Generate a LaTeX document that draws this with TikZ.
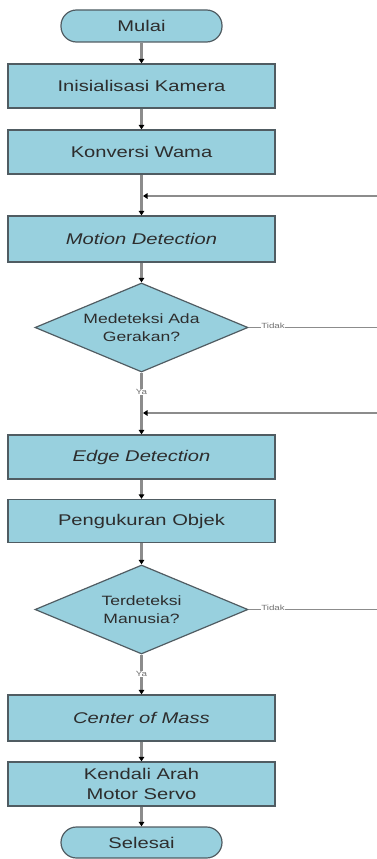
\documentclass[tikz,border=0pt]{standalone}
\usepackage{fontspec}
\setmainfont{Liberation Sans}[FakeStretch=1.3]
\usetikzlibrary{shapes.geometric,arrows.meta}
\definecolor{boxfill}{RGB}{152,208,222}
\definecolor{boxline}{RGB}{80,92,98}
\definecolor{stem}{RGB}{140,140,140}
\definecolor{txt}{RGB}{45,45,45}
\tikzset{
  proc/.style={draw=boxline, line width=1.2pt, fill=boxfill, rectangle,
    minimum width=267pt, inner sep=0pt, text=txt, align=center,
    font=\fontsize{15.5}{20}\selectfont},
  term/.style={proc, minimum width=161pt, rounded corners=15.5pt},
  dec/.style={draw=boxline, line width=1.2pt, fill=boxfill, diamond, aspect=2.4,
    minimum width=213pt, minimum height=89pt, inner sep=0pt, text=txt, align=center,
    font=\fontsize{13.5}{18}\selectfont},
  flow/.style={draw=stem, line width=2.6pt, -{Triangle[color=black,length=4.5pt,width=5.5pt]}},
  back/.style={draw=stem, line width=1.3pt, -{Triangle[color=black,length=4.5pt,width=5.5pt]}},
  side/.style={draw=stem, line width=1.3pt},
  lbl/.style={font=\fontsize{7.5}{8}\selectfont, text=stem!80!black, fill=white, inner sep=0.6pt}
}
\begin{document}
\begin{tikzpicture}[x=1pt,y=-1pt]
\useasboundingbox (0,0) rectangle (377,859);
\node[term, minimum height=32pt] (start) at (141.5,26) {Mulai};
\node[proc, minimum height=44pt] (b1) at (141.5,86) {Inisialisasi Kamera};
\node[proc, minimum height=44pt] (b2) at (141.5,152) {Konversi Wama};
\coordinate (j1) at (141.5,196);
\coordinate (r1) at (377,196);
\node[proc, minimum height=46pt] (b3) at (141.5,239) {\itshape Motion Detection};
\node[dec] (d1) at (141.5,327.5) {Medeteksi Ada\\Gerakan?};
\coordinate (t1) at (377,327.5);
\coordinate (j2) at (141.5,413);
\coordinate (r2) at (377,413);
\node[proc, minimum height=44pt] (b4) at (141.5,457) {\itshape Edge Detection};
\node[proc, minimum height=43pt] (b5) at (141.5,521) {Pengukuran Objek};
\node[dec] (d2) at (141.5,609.5) {Terdeteksi\\Manusia?};
\coordinate (t2) at (377,609.5);
\node[proc, minimum height=46pt] (b6) at (141.5,718) {\itshape Center of Mass};
\node[proc, minimum height=44pt] (b7) at (141.5,784) {Kendali Arah\\Motor Servo};
\node[term, minimum height=31pt] (end) at (141.5,842.5) {Selesai};

\draw[flow] (start) -- (b1);
\draw[flow] (b1) -- (b2);
\draw[flow] (b2) -- (b3);
\draw[back, shorten >=1.5pt] (r1) -- (j1);
\draw[flow] (b3) -- (d1);
\draw[side] (d1.east) -- (t1);
\node[lbl] (tidak1) at (273,326) {Tidak};
\draw[flow] (d1.south) -- (b4);
\node[lbl] (ya1) at (141.5,392) {Ya};
\draw[back, shorten >=1.5pt] (r2) -- (j2);
\draw[flow] (b4) -- (b5);
\draw[flow] (b5) -- (d2);
\draw[side] (d2.east) -- (t2);
\node[lbl] (tidak2) at (273,608) {Tidak};
\draw[flow] (d2.south) -- (b6);
\node[lbl] (ya2) at (141.5,674) {Ya};
\draw[flow] (b6) -- (b7);
\draw[flow] (b7) -- (end);
\end{tikzpicture}
\end{document}
